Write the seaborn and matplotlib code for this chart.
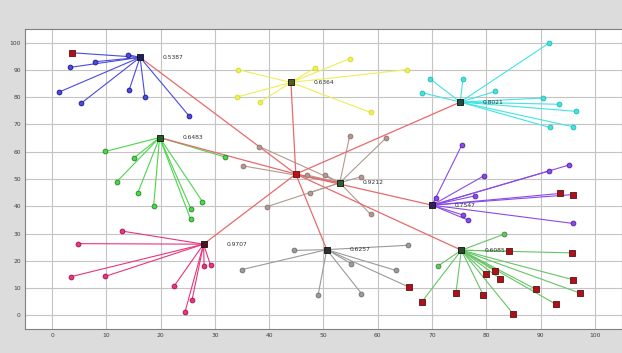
import numpy as np
import pandas as pd
import matplotlib
matplotlib.use("Agg")
import matplotlib.pyplot as plt
import seaborn as sns

# Base station (sink)
sink_x, sink_y = 44.9, 51.8

# Cluster heads, their energy labels and member nodes
blue_head = (16.2, 94.6)
blue_label = "0.5387"
blue_x = [13.9, 7.9, 3.2, 1.3, 5.3, 14.2, 17.1, 25.2]
blue_y = [95.6, 93.0, 90.9, 81.9, 77.7, 82.7, 80.0, 73.2]
blue_dead_x = [3.6]
blue_dead_y = [96.3]

green_head = (19.8, 65.2)
green_label = "0.6483"
green_x = [9.8, 15.0, 11.9, 15.8, 18.7, 25.6, 25.5, 27.7, 31.8]
green_y = [60.1, 57.6, 49.0, 45.0, 40.1, 39.0, 35.3, 41.7, 58.1]

pink_head = (27.9, 26.1)
pink_label = "0.9707"
pink_x = [12.9, 4.7, 3.5, 9.8, 22.5, 25.8, 24.5, 28.0, 29.2]
pink_y = [30.9, 26.3, 14.2, 14.3, 10.8, 5.8, 1.4, 18.1, 18.3]

yellow_head = (44.0, 85.4)
yellow_label = "0.6364"
yellow_x = [34.3, 48.4, 54.8, 65.4, 34.0, 38.3, 58.7]
yellow_y = [90.1, 90.7, 94.1, 90.1, 80.0, 78.2, 74.4]

cyan_head = (75.2, 78.2)
cyan_label = "0.8021"
cyan_x = [91.6, 69.6, 75.7, 68.1, 81.6, 90.5, 93.4, 96.6, 91.7, 95.9]
cyan_y = [99.9, 86.8, 86.8, 81.7, 82.1, 79.7, 77.4, 74.8, 68.9, 69.2]

olive_head = (53.0, 48.6)
olive_label = "0.9212"
olive_x = [47.5, 39.5, 57.0, 58.7, 54.8, 61.6, 38.2, 35.2, 46.9, 50.3]
olive_y = [45.0, 39.8, 50.9, 37.0, 65.6, 65.2, 61.9, 54.8, 51.5, 51.5]

purple_head = (70.0, 40.4)
purple_label = "0.7547"
purple_x = [75.5, 79.6, 91.5, 95.2, 77.9, 75.7, 76.7, 70.7, 96.0]
purple_y = [62.5, 51.2, 52.9, 55.1, 43.8, 36.8, 34.9, 43.1, 33.7]
purple_dead_x = [93.6, 96.0]
purple_dead_y = [44.7, 44.3]

gray_head = (50.6, 24.1)
gray_label = "0.6257"
gray_x = [44.6, 35.0, 49.0, 57.0, 55.1, 63.3, 65.6]
gray_y = [23.8, 16.8, 7.4, 8.0, 19.0, 16.5, 25.7]
gray_dead_x = [65.7]
gray_dead_y = [10.4]

lgreen_head = (75.4, 23.9)
lgreen_label = "0.6085"
lgreen_x = [83.2, 71.1]
lgreen_y = [29.7, 18.1]
lgreen_dead_x = [68.1, 74.4, 79.4, 80.0, 81.6, 82.5, 85.0, 89.1, 92.9, 97.2, 95.9, 95.8, 84.2]
lgreen_dead_y = [4.9, 8.2, 7.6, 15.1, 16.3, 13.5, 0.4, 9.6, 4.0, 8.2, 13.1, 22.9, 23.5]

x_ticks = list(range(0, 101, 10))
y_ticks = list(range(0, 101, 10))

clusters = [
    (blue_head, blue_label, blue_x, blue_y, blue_dead_x, blue_dead_y, "#4a4ae0", "#1a1a80", "#20205a"),
    (green_head, green_label, green_x, green_y, [], [], "#4cd44c", "#208a20", "#206020"),
    (pink_head, pink_label, pink_x, pink_y, [], [], "#e8357f", "#a01050", "#501020"),
    (yellow_head, yellow_label, yellow_x, yellow_y, [], [], "#eeee55", "#d8d830", "#506020"),
    (cyan_head, cyan_label, cyan_x, cyan_y, [], [], "#40e4e4", "#20b8b8", "#205040"),
    (olive_head, olive_label, olive_x, olive_y, [], [], "#b09a90", "#907070", "#306030"),
    (purple_head, purple_label, purple_x, purple_y, purple_dead_x, purple_dead_y, "#8a4ae6", "#5020a0", "#302060"),
    (gray_head, gray_label, gray_x, gray_y, gray_dead_x, gray_dead_y, "#9a9a9a", "#707070", "#303030"),
    (lgreen_head, lgreen_label, lgreen_x, lgreen_y, lgreen_dead_x, lgreen_dead_y, "#66c466", "#3a8a3a", "#2a4a2a"),
]

sns.set_style("whitegrid")
plt.rcParams['font.family'] = ['DejaVu Sans']

fig = plt.figure(figsize=(6.22, 3.53), dpi=100, facecolor="#dcdcdc")
ax = fig.add_axes([25 / 622, 24 / 353, 597 / 622, 300 / 353])
ax.set_facecolor("white")

# member links
for head, label, mx, my, dx, dy, line_c, edge_c, head_c in clusters:
    hx, hy = head
    for px, py in zip(list(mx) + list(dx), list(my) + list(dy)):
        ax.plot([hx, px], [hy, py], color=line_c, lw=0.8, zorder=2)

# cluster head to sink links
for head, *_ in clusters:
    ax.plot([head[0], sink_x], [head[1], sink_y], color="#e86a6a", lw=0.9, zorder=3)

# nodes
for head, label, mx, my, dx, dy, line_c, edge_c, head_c in clusters:
    members = pd.DataFrame({"x": mx, "y": my})
    sns.scatterplot(data=members, x="x", y="y", ax=ax, s=12, marker="o",
                    color=line_c, edgecolor=edge_c, linewidth=0.6, zorder=4)
    if dx:
        dead = pd.DataFrame({"x": dx, "y": dy})
        sns.scatterplot(data=dead, x="x", y="y", ax=ax, s=22, marker="s",
                        color="#b0101c", edgecolor="#5a1010", linewidth=0.6, zorder=5)
    heads = pd.DataFrame({"x": [head[0]], "y": [head[1]]})
    sns.scatterplot(data=heads, x="x", y="y", ax=ax, s=22, marker="s",
                    color=head_c, edgecolor="#101010", linewidth=0.6, zorder=6)
    ax.text(head[0] + 4.2, head[1], label, fontsize=4.3, color="#303030",
            va="center", ha="left", zorder=7)

sink = pd.DataFrame({"x": [sink_x], "y": [sink_y]})
sns.scatterplot(data=sink, x="x", y="y", ax=ax, s=22, marker="s",
                color="#c01020", edgecolor="#601010", linewidth=0.6, zorder=6)

ax.set_xlim(-5, 105)
ax.set_ylim(-5, 105)
ax.set_xticks(x_ticks)
ax.set_yticks(y_ticks)
ax.set_xticklabels([str(v) for v in x_ticks])
ax.set_yticklabels([str(v) for v in y_ticks])
ax.tick_params(axis="both", labelsize=4.3, colors="#404040", length=2,
               direction="in", pad=3)
ax.grid(True, color="#c4c4c4", lw=0.8)
ax.set_xlabel("")
ax.set_ylabel("")
for s in ax.spines.values():
    s.set_color("#808080")
    s.set_linewidth(0.8)

fig.savefig("out.png", dpi=100, facecolor=fig.get_facecolor())
